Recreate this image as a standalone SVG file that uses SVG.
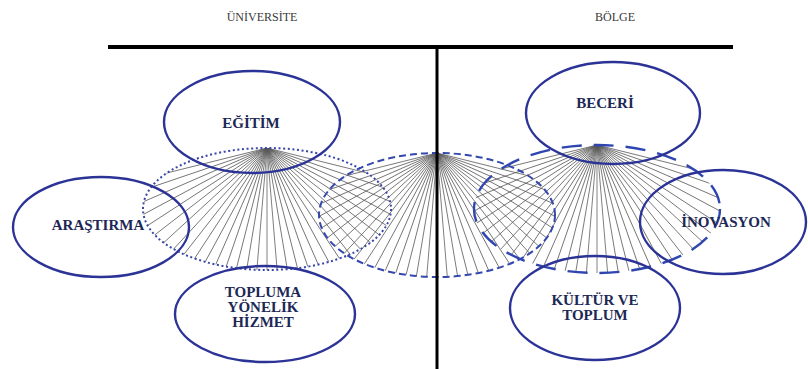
<svg xmlns="http://www.w3.org/2000/svg" xmlns:xlink="http://www.w3.org/1999/xlink" width="808" height="369" viewBox="0 0 808 369">
<style>
.node{fill:none;stroke:#2b3397;stroke-width:2.4}
.lbl{font-family:"Liberation Serif","Times New Roman",serif;font-weight:bold;font-size:15px;fill:#1c2855;text-anchor:middle}
.hdr{font-family:"Liberation Serif","Times New Roman",serif;font-size:12px;fill:#3a3a3a;text-anchor:middle}
.axis{stroke:#000;fill:none}
</style>
<defs>
<line id="ray" x1="0" y1="0" x2="320" y2="0"/>
<g id="fan" stroke="#5a5a5a" stroke-width="0.75">
<use href="#ray" transform="rotate(14)"/><use href="#ray" transform="rotate(18.75)"/><use href="#ray" transform="rotate(23.5)"/><use href="#ray" transform="rotate(28.25)"/><use href="#ray" transform="rotate(33)"/><use href="#ray" transform="rotate(37.75)"/><use href="#ray" transform="rotate(42.5)"/><use href="#ray" transform="rotate(47.25)"/><use href="#ray" transform="rotate(52)"/><use href="#ray" transform="rotate(56.75)"/><use href="#ray" transform="rotate(61.5)"/><use href="#ray" transform="rotate(66.25)"/><use href="#ray" transform="rotate(71)"/><use href="#ray" transform="rotate(75.75)"/><use href="#ray" transform="rotate(80.5)"/><use href="#ray" transform="rotate(85.25)"/><use href="#ray" transform="rotate(90)"/><use href="#ray" transform="rotate(94.75)"/><use href="#ray" transform="rotate(99.5)"/><use href="#ray" transform="rotate(104.25)"/><use href="#ray" transform="rotate(109)"/><use href="#ray" transform="rotate(113.75)"/><use href="#ray" transform="rotate(118.5)"/><use href="#ray" transform="rotate(123.25)"/><use href="#ray" transform="rotate(128)"/><use href="#ray" transform="rotate(132.75)"/><use href="#ray" transform="rotate(137.5)"/><use href="#ray" transform="rotate(142.25)"/><use href="#ray" transform="rotate(147)"/><use href="#ray" transform="rotate(151.75)"/><use href="#ray" transform="rotate(156.5)"/><use href="#ray" transform="rotate(161.25)"/><use href="#ray" transform="rotate(166)"/>
</g>
<clipPath id="cL"><ellipse cx="267" cy="209" rx="124" ry="61"/></clipPath>
<clipPath id="cM"><ellipse cx="437" cy="215" rx="118" ry="62"/></clipPath>
<clipPath id="cR"><ellipse cx="597" cy="209" rx="123" ry="64"/></clipPath>
</defs>
<rect width="808" height="369" fill="#fff"/>
<g id="connectors">
<g clip-path="url(#cL)"><use href="#fan" transform="translate(267,148)"/></g>
<g clip-path="url(#cM)"><use href="#fan" transform="translate(437,153)"/></g>
<g clip-path="url(#cR)"><use href="#fan" transform="translate(597,145)"/></g>
<ellipse cx="267" cy="209" rx="124" ry="61" fill="none" stroke="#3946a8" stroke-width="2" stroke-dasharray="2 2.6"/>
<ellipse cx="437" cy="215" rx="118" ry="62" fill="none" stroke="#3448ad" stroke-width="2" stroke-dasharray="7 4"/>
<ellipse cx="597" cy="209" rx="123" ry="64" fill="none" stroke="#2f45b0" stroke-width="2.4" stroke-dasharray="20 12"/>
</g>
<g id="axes">
<line class="axis" x1="108" y1="47" x2="733" y2="47" stroke-width="4"/>
<line class="axis" x1="437" y1="46" x2="437" y2="369" stroke-width="3"/>
<text class="hdr" x="262" y="21">ÜNİVERSİTE</text>
<text class="hdr" x="615" y="21">BÖLGE</text>
</g>
<g id="egitim"><ellipse class="node" cx="252" cy="122" rx="88" ry="51"/><text class="lbl" x="251" y="128">EĞİTİM</text></g>
<g id="arastirma"><ellipse class="node" cx="101" cy="227" rx="88" ry="50"/><text class="lbl" x="98" y="230">ARAŞTIRMA</text></g>
<g id="topluma"><ellipse class="node" cx="265" cy="314" rx="90" ry="48"/><text class="lbl" x="263" y="297">TOPLUMA</text><text class="lbl" x="263" y="312">YÖNELİK</text><text class="lbl" x="263" y="327">HİZMET</text></g>
<g id="beceri"><ellipse class="node" cx="613" cy="113" rx="87" ry="51"/><text class="lbl" x="605" y="108">BECERİ</text></g>
<g id="inovasyon"><ellipse class="node" cx="723" cy="222" rx="83" ry="52"/><text class="lbl" x="726" y="227">İNOVASYON</text></g>
<g id="kultur"><ellipse class="node" cx="595" cy="308" rx="85" ry="52"/><text class="lbl" x="595" y="305">KÜLTÜR VE</text><text class="lbl" x="595" y="320">TOPLUM</text></g>
</svg>
